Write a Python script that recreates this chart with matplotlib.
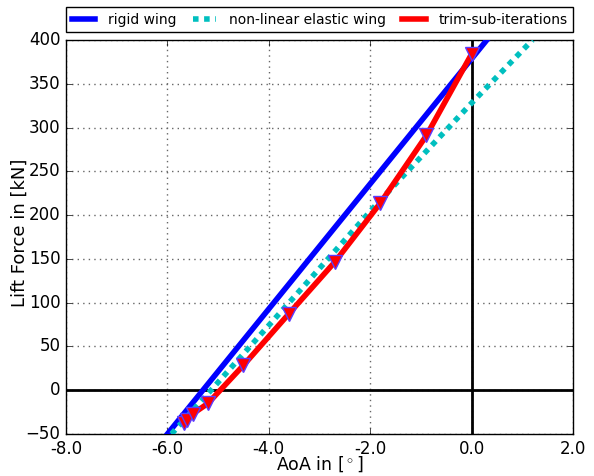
import matplotlib
matplotlib.use("Agg")
import matplotlib.pyplot as plt
import numpy as np

plt.style.use("classic")

rigid_x = [-6.0, 0.3]
rigid_y = [-50, 400]

elastic_x = [-5.92, -5.14, -3.60, -1.85, 0.0, 1.2]
elastic_y = [-50, 0, 100, 214, 328, 400]

trim_x = [-5.67, -5.62, -5.50, -5.20, -4.50, -3.60, -2.69, -1.80, -0.89, 0.0]
trim_y = [-37, -34, -27, -15, 28.5, 87.6, 147, 213.8, 291, 384]

xticks = [-8.0, -6.0, -4.0, -2.0, 0.0, 2.0]
xticklabels = ["-8.0", "-6.0", "-4.0", "-2.0", "0.0", "2.0"]
yticks = [-50, 0, 50, 100, 150, 200, 250, 300, 350, 400]

fig = plt.figure(figsize=(5.94, 4.76), dpi=100, facecolor="white")
ax = fig.add_axes([66/594, 1-434/476, (573-66)/594, (434-40)/476])

ax.axhline(0, color="k", lw=2, zorder=1)
ax.axvline(0, color="k", lw=2, zorder=1)

ax.plot(rigid_x, rigid_y, color="b", lw=4, label="rigid wing", zorder=3)
ax.plot(elastic_x, elastic_y, color="c", lw=4, dashes=(4, 4), label="non-linear elastic wing", zorder=3)
ax.plot(trim_x, trim_y, color="r", lw=4, label="trim-sub-iterations", zorder=4)
ax.plot(trim_x, trim_y, linestyle="none", marker="v", markersize=9.5,
        markerfacecolor="r", markeredgecolor="#5a3cff", markeredgewidth=1, zorder=5)

ax.set_xlim(-8, 2)
ax.set_ylim(-50, 400)
ax.set_xticks(xticks)
ax.set_xticklabels(xticklabels)
ax.set_yticks(yticks)
ax.tick_params(labelsize=12)
ax.grid(True, color="0.4", linestyle=":", linewidth=1)
ax.set_axisbelow(True)
ax.set_xlabel("AoA in [$^\\circ$]", fontsize=12.5)
ax.set_ylabel("Lift Force in [kN]", fontsize=13)
ax.xaxis.set_label_coords(0.5, (434 - 454) / 394)
ax.yaxis.set_label_coords((29 - 66) / 507, (434 - 233) / 394)

leg = ax.legend(loc="lower left", bbox_to_anchor=(0, 1.02, 1, 0.1), mode="expand",
                ncol=3, borderaxespad=0, fontsize=10, handlelength=1.7,
                handletextpad=0.9, columnspacing=1.9,
                fancybox=False, numpoints=1)
leg.get_frame().set_edgecolor("k")

fig.savefig("out.png", dpi=100, facecolor="white")
